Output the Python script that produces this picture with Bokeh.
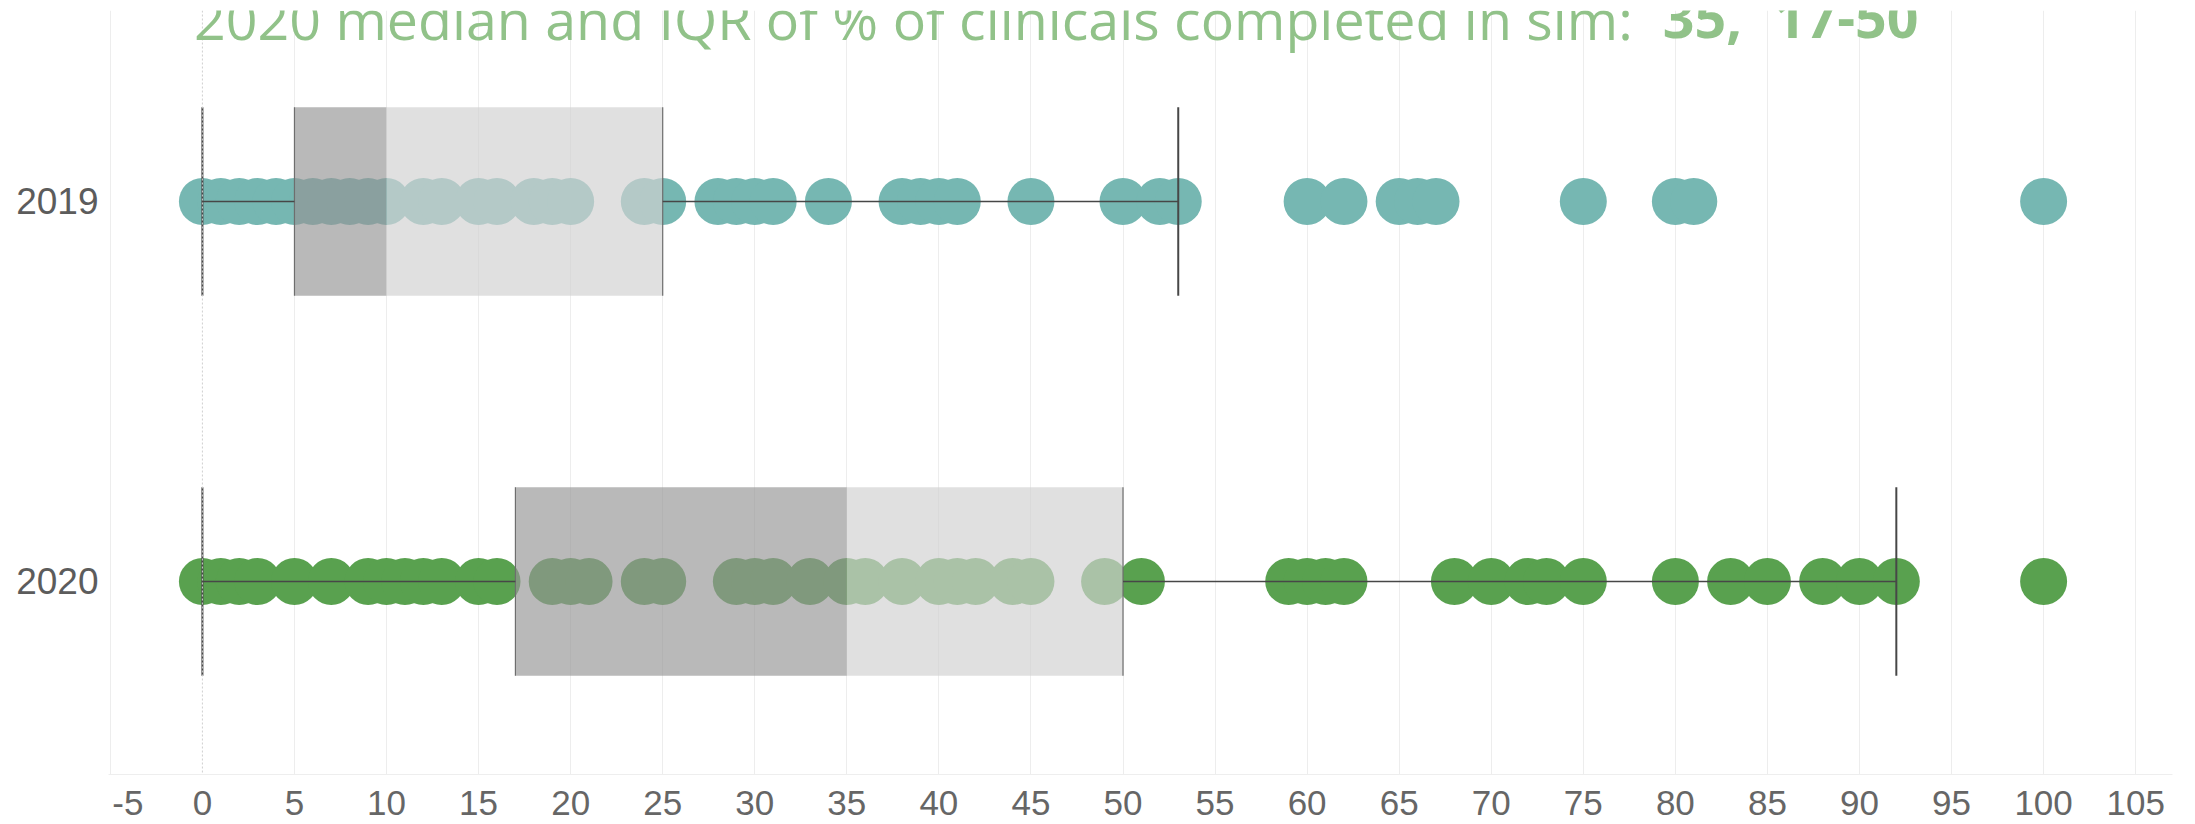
from bokeh.plotting import figure
from bokeh.models import Range1d, FixedTicker, Label, Span, ColumnDataSource
from bokeh.embed import file_html
from bokeh.resources import INLINE

# ---------------- data ----------------
years = ["2019", "2020"]
values_2019 = [0, 1, 2, 3, 4, 5, 6, 7, 8, 9, 10, 12, 13, 15, 16, 18, 19, 20, 24, 25,
               28, 29, 30, 31, 34, 38, 39, 40, 41, 45, 50, 52, 53, 60, 62, 65, 66, 67,
               75, 80, 81, 100]
values_2020 = [0, 1, 2, 3, 5, 7, 9, 10, 11, 12, 13, 15, 16, 19, 20, 21, 24, 25, 29, 30,
               31, 33, 35, 36, 38, 40, 41, 42, 44, 45, 49, 51, 59, 60, 61, 62, 68, 70,
               72, 73, 75, 80, 83, 85, 88, 90, 92, 100]
q1 = [5, 17]
median = [10, 35]
q3 = [25, 50]
whisker_low = [0, 0]
whisker_high = [53, 92]
x_ticks = list(range(-5, 110, 5))
title_regular = "2020 median and IQR of % of clinicals completed in sim:"
title_bold_1 = "35,"
title_bold_2 = "17-50"

colors = ["#76b7b2", "#59a14f"]
row_of = {"2019": 1, "2020": 0}
half = 0.248

p = figure(width=2190, height=824, output_backend="svg",
           toolbar_location=None, x_range=Range1d(-5.1, 107.0),
           y_range=Range1d(-0.5079, 1.5026),
           min_border_left=108, min_border_right=18, min_border_top=10,
           min_border_bottom=48)
p.outline_line_color = None
p.background_fill_color = "white"
p.border_fill_color = "white"

# grid
p.xgrid.ticker = FixedTicker(ticks=[t for t in x_ticks if t != 0])
p.xgrid.grid_line_color = "#ededed"
p.xgrid.grid_line_width = 1
p.ygrid.grid_line_color = None
p.add_layout(Span(location=0, dimension="height", line_color="#cfcfcf",
                  line_dash="2 2", line_width=1))

# points
for yr, vals, col in [("2019", values_2019, colors[0]), ("2020", values_2020, colors[1])]:
    src = ColumnDataSource(dict(x=vals, y=[row_of[yr]] * len(vals)))
    p.scatter("x", "y", source=src, size=47, fill_color=col, line_color=None,
              fill_alpha=1.0)

rows = [row_of[y] for y in years]
bot = [r - half for r in rows]
top = [r + half for r in rows]

# boxes
p.quad(left=q1, right=median, bottom=bot, top=top, fill_color="#949494",
       fill_alpha=0.66, line_color=None)
p.quad(left=median, right=q3, bottom=bot, top=top, fill_color="#d1d1d1",
       fill_alpha=0.68, line_color=None)
# box edges
p.segment(x0=q1, x1=q1, y0=bot, y1=top, line_color="#6e6e6e", line_width=1.2)
p.segment(x0=q3, x1=q3, y0=bot, y1=top, line_color="#6e6e6e", line_width=1.2)
# whiskers
p.segment(x0=whisker_low, x1=q1, y0=rows, y1=rows, line_color="#474747", line_width=1.6)
p.segment(x0=q3, x1=whisker_high, y0=rows, y1=rows, line_color="#474747", line_width=1.6)
p.segment(x0=whisker_low, x1=whisker_low, y0=bot, y1=top, line_color="#474747", line_width=2)
p.segment(x0=whisker_high, x1=whisker_high, y0=bot, y1=top, line_color="#474747", line_width=2)

# axes
p.xaxis.ticker = FixedTicker(ticks=x_ticks)
labels = {t: str(t) for t in x_ticks}
labels[x_ticks[0]] = "\u2003" + str(x_ticks[0])   # first label kept inside the pane
p.xaxis.major_label_overrides = labels
p.xaxis.major_label_text_font = "Liberation Sans"
p.xaxis.major_label_text_font_size = "35px"
p.xaxis.major_label_text_color = "#666666"
p.xaxis.axis_line_color = "#eeeeee"
p.xaxis.major_tick_line_color = None
p.xaxis.minor_tick_line_color = None
p.xaxis.major_tick_out = 0
p.xaxis.major_tick_in = 0
p.xaxis.major_label_standoff = 8

p.yaxis.ticker = FixedTicker(ticks=rows)
p.yaxis.major_label_overrides = {row_of[y]: y for y in years}
p.yaxis.major_label_text_font = "Liberation Sans"
p.yaxis.major_label_text_font_size = "37px"
p.yaxis.major_label_text_color = "#5c5c5c"
p.yaxis.axis_line_color = None
p.yaxis.major_tick_line_color = None
p.yaxis.minor_tick_line_color = None
p.yaxis.major_tick_out = 0
p.yaxis.major_tick_in = 0
p.yaxis.major_label_standoff = 10

# title (partly cut off at top like the reference)
title_y = 1.4816
tstyle = dict(text_font="Open Sans", text_font_size="55.5px", text_color="#91c289",
              text_baseline="alphabetic", text_align="left")
p.add_layout(Label(x=-0.45, y=title_y, text=title_regular, **tstyle))
p.add_layout(Label(x=79.31, y=title_y, text=title_bold_1, text_font_style="bold", **tstyle))
p.add_layout(Label(x=85.34, y=title_y, text=title_bold_2, text_font_style="bold", **tstyle))

open("out.html", "w").write(file_html(p, INLINE))
